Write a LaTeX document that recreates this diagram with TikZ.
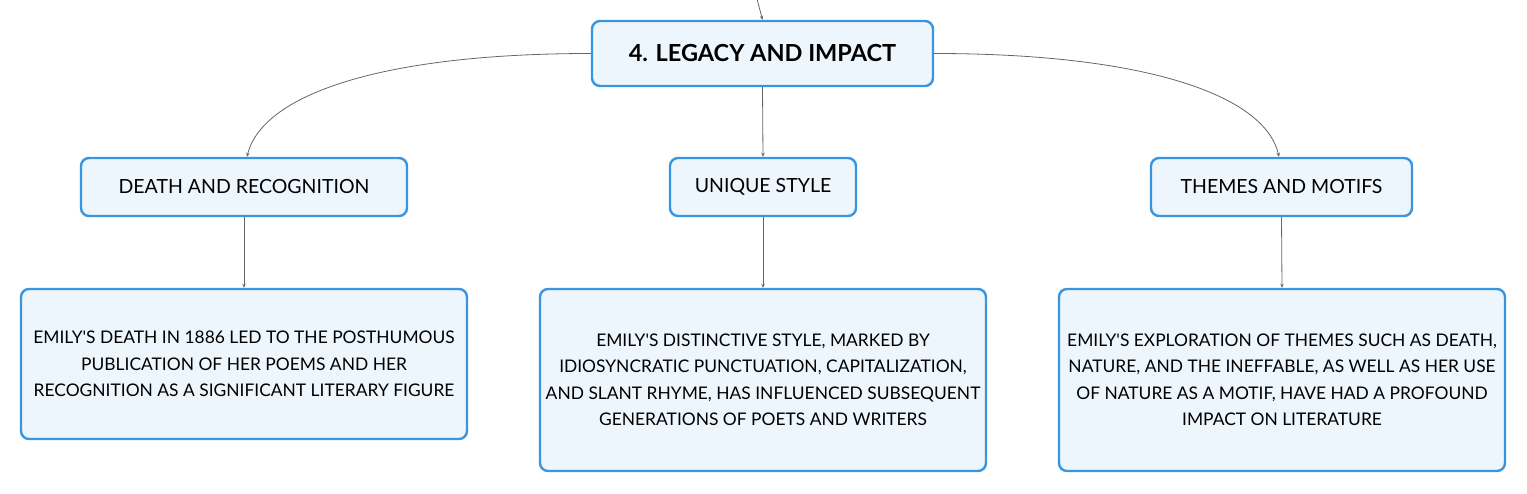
\documentclass[tikz,border=0pt]{standalone}
\usepackage{fontspec}
\setmainfont{Lato}[Ligatures=TeXOff]
\usetikzlibrary{arrows.meta}
\definecolor{boxblue}{HTML}{3A95E0}
\definecolor{boxfill}{HTML}{EEF6FD}
\definecolor{linegray}{HTML}{666666}
\tikzset{
  card/.style={draw=boxblue, line width=2.4pt, fill=boxfill, rounded corners=8pt, align=center, inner sep=0pt, text=black},
  rootbox/.style={card, minimum width=341pt, minimum height=65pt, font=\fontsize{23.5}{28}\selectfont\bfseries},
  midbox/.style={card, minimum height=58pt, font=\fontsize{19.5}{23}\selectfont},
  leafbox/.style={card, minimum width=446pt, font=\fontsize{17.4}{26.5}\selectfont},
  conn/.style={draw=linegray, line width=0.8pt, -{Stealth[length=4pt,width=3.5pt]}}
}
\begin{document}
\begin{tikzpicture}[x=1pt,y=-1pt]
\useasboundingbox (0,0) rectangle (1527,494);
\node[rootbox] (root) at (762.5,53.5) {4. LEGACY AND IMPACT};
\node[midbox, minimum width=326pt] (death) at (244,187) {DEATH AND RECOGNITION};
\node[midbox, minimum width=186pt] (style) at (763,187) {UNIQUE STYLE};
\node[midbox, minimum width=261pt] (themes) at (1281.5,187) {THEMES AND MOTIFS};
\node[leafbox, minimum height=150pt] (l1) at (244,364) {EMILY'S DEATH IN 1886 LED TO THE POSTHUMOUS\\PUBLICATION OF HER POEMS AND HER\\RECOGNITION AS A SIGNIFICANT LITERARY FIGURE};
\node[leafbox, minimum height=182pt] (l2) at (763,380) {EMILY'S DISTINCTIVE STYLE, MARKED BY\\IDIOSYNCRATIC PUNCTUATION, CAPITALIZATION,\\AND SLANT RHYME, HAS INFLUENCED SUBSEQUENT\\GENERATIONS OF POETS AND WRITERS};
\node[leafbox, minimum height=182pt] (l3) at (1282,380) {EMILY'S EXPLORATION OF THEMES SUCH AS DEATH,\\NATURE, AND THE INEFFABLE, AS WELL AS HER USE\\OF NATURE AS A MOTIF, HAVE HAD A PROFOUND\\IMPACT ON LITERATURE};
\coordinate (top) at (757,-1);
\draw[conn] (top) -- (root.north);
\draw[conn] (root.west) .. controls (380,53.5) and (262,95) .. ([xshift=3pt]death.north);
\draw[conn] (root.east) .. controls (1145,53.5) and (1265,95) .. ([xshift=-2.5pt]themes.north);
\draw[conn] (root.south) -- (style.north);
\draw[conn] (death.south) -- (l1.north);
\draw[conn] (style.south) -- (l2.north);
\draw[conn] (themes.south) -- (l3.north);
\end{tikzpicture}
\end{document}
